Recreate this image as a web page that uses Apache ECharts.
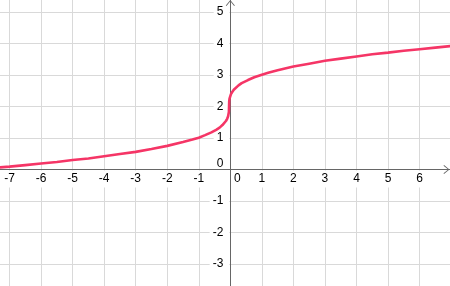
<!DOCTYPE html>
<html>
<head>
<meta charset="utf-8">
<script src="https://cdn.jsdelivr.net/npm/echarts@6/dist/echarts.min.js"></script>
<style>html,body{margin:0;padding:0;background:#fff}#c{width:450px;height:286px}</style>
</head>
<body>
<div id="c"></div>
<script>
// Curve points (x, y)
const curveX = [-7.5,-7,-6.5,-6,-5.5,-5,-4.5,-4,-3.5,-3,-2.5,-2,-1.5,-1.2,-1,-0.8,-0.6,-0.45,-0.34,-0.25,-0.19,-0.14,-0.1,-0.07,-0.055,-0.045,-0.04,-0.035,-0.025,-0.01,0.02,0.06,0.11,0.16,0.26,0.36,0.56,0.76,1,1.2,1.5,2,2.5,3,3.5,4,4.5,5,5.5,6,6.5,7.1];
const curveY = [0.05,0.09,0.14,0.19,0.24,0.30,0.35,0.42,0.49,0.56,0.65,0.75,0.87,0.95,1.01,1.09,1.18,1.26,1.33,1.41,1.47,1.54,1.61,1.69,1.75,1.83,2.00,2.17,2.25,2.31,2.39,2.46,2.53,2.58,2.67,2.74,2.84,2.93,3.01,3.07,3.15,3.27,3.36,3.45,3.52,3.59,3.66,3.71,3.77,3.82,3.87,3.93];
// Axis tick labels shown
const xTickLabels = [-7,-6,-5,-4,-3,-2,-1,0,1,2,3,4,5,6];
const yTickLabels = [-3,-2,-1,0,1,2,3,4,5];

const X_MIN = -8, X_MAX = 7, Y_MIN = -4, Y_MAX = 6;
const W = 450, H = 286;
const gridBox = {left: -22, right: -1.1, top: -19.5, bottom: -9.5};
const pxPerX = (W - gridBox.left - gridBox.right) / (X_MAX - X_MIN);
const pxPerY = (H - gridBox.top - gridBox.bottom) / (Y_MAX - Y_MIN);

const chart = echarts.init(document.getElementById('c'), null, {renderer: 'canvas'});
const chevron = 'path://M0,6 L5,0 L10,6 L9.2,6.6 L5,1.4 L0.8,6.6 Z';
const font = {fontFamily: 'Liberation Sans, Arial, sans-serif', fontSize: 12, color: '#000'};

chart.setOption({
  animation: false,
  backgroundColor: '#fff',
  grid: Object.assign({containLabel: false, outerBoundsMode: 'none'}, gridBox),
  xAxis: {
    type: 'value', min: X_MIN, max: X_MAX, interval: 1,
    position: 'bottom',
    offset: -(0 - Y_MIN) * pxPerY,
    axisLine: {onZero: false, lineStyle: {color: '#666', width: 1}, symbol: ['none', chevron], symbolSize: [10, 6], symbolOffset: [0, -4.6]},
    axisTick: {show: false},
    splitLine: {show: true, lineStyle: {color: '#d9d9d9', width: 1}},
    axisLabel: {
      margin: 1,
      formatter: function (v) {
        if (xTickLabels.indexOf(v) < 0) return '';
        if (v === 0) return '{z|0}';
        return '{n|' + v + '}';
      },
      rich: {
        n: Object.assign({backgroundColor: '#fff', padding: [2, 3, 3, 3]}, font),
        z: Object.assign({padding: [2, 0, 3, 14]}, font)
      }
    }
  },
  yAxis: {
    type: 'value', min: Y_MIN, max: Y_MAX, interval: 1,
    position: 'left',
    offset: -(0 - X_MIN) * pxPerX,
    axisLine: {onZero: false, lineStyle: {color: '#666', width: 1}, symbol: ['none', chevron], symbolSize: [10, 6], symbolOffset: [0, -22.5]},
    axisTick: {show: false},
    splitLine: {show: true, lineStyle: {color: '#d9d9d9', width: 1}},
    axisLabel: {
      margin: 1,
      formatter: function (v) {
        if (yTickLabels.indexOf(v) < 0) return '';
        if (v === 0) return '{z|0}';
        return '{n|' + v + '}';
      },
      rich: {
        n: Object.assign({backgroundColor: '#fff', padding: [2, 6, 2, 3]}, font),
        z: Object.assign({padding: [0, 6, 12, 0]}, font)
      }
    }
  },
  series: [{
    type: 'line',
    data: curveX.map((x, i) => [x, curveY[i]]),
    showSymbol: false,
    smooth: false,
    clip: true,
    lineStyle: {color: '#f53566', width: 2.6},
    z: 3
  }]
});
</script>
</body>
</html>
